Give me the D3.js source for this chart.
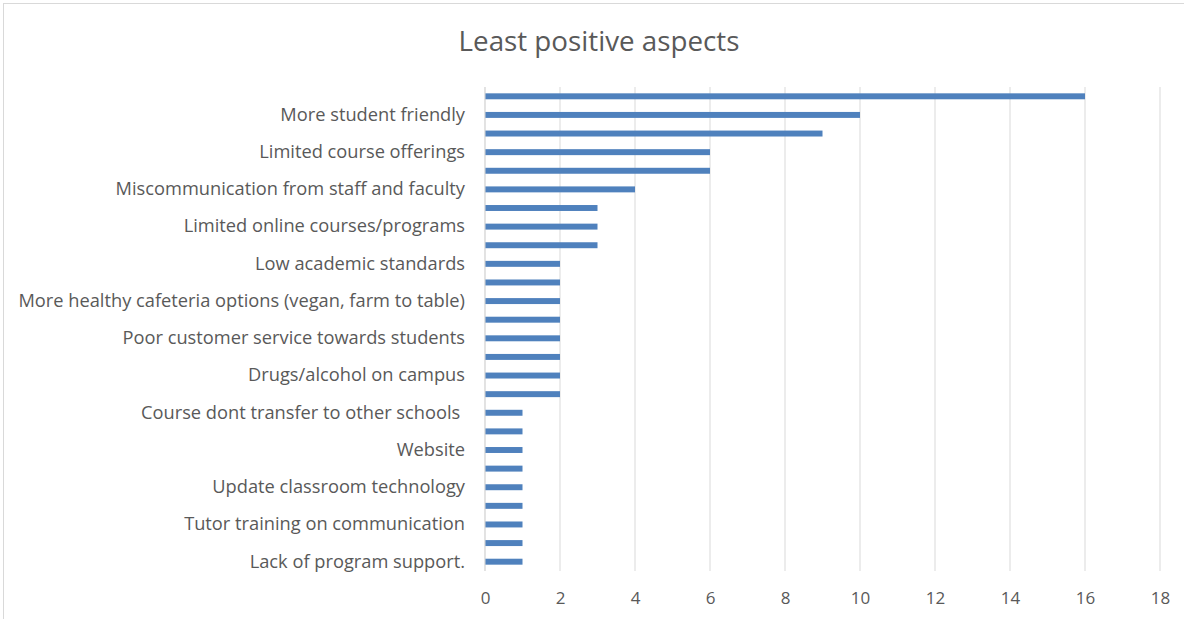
<!DOCTYPE html>
<html><head><meta charset="utf-8">
<script src="https://cdn.jsdelivr.net/npm/d3@7/dist/d3.min.js"></script>
<style>body{margin:0;background:#fff;} text{white-space:pre;}</style>
</head><body>
<script>
const title = "Least positive aspects";
// 26 categories top-to-bottom; only every other one carries a visible label in the reference
const categories = [
  "", "More student friendly",
  "", "Limited course offerings",
  "", "Miscommunication from staff and faculty",
  "", "Limited online courses/programs",
  "", "Low academic standards",
  "", "More healthy cafeteria options (vegan, farm to table)",
  "", "Poor customer service towards students",
  "", "Drugs/alcohol on campus",
  "", "Course dont transfer to other schools ",
  "", "Website",
  "", "Update classroom technology",
  "", "Tutor training on communication",
  "", "Lack of program support."
];
const values = [16,10,9,6,6,4,3,3,3,2,2,2,2,2,2,2,2,1,1,1,1,1,1,1,1,1];
const xTicks = [0,2,4,6,8,10,12,14,16,18];

const W = 1184, H = 619;
const svg = d3.select("body").append("svg").attr("width", W).attr("height", H);
const font = "'Open Sans', Lato, sans-serif";

// chart frame
svg.append("rect").attr("x", 3.5).attr("y", 3.5).attr("width", W + 10).attr("height", H + 10)
  .attr("fill", "#fff").attr("stroke", "#d9d9d9");

const m = {left: 485, right: 1160, top: 87, bottom: 571};
const x = d3.scaleLinear().domain([0, 18]).range([m.left, m.right]);
const y = d3.scaleBand().domain(d3.range(categories.length)).range([m.top, m.bottom]).paddingInner(0.68).paddingOuter(0.34);

// gridlines
svg.append("g").selectAll("line").data(xTicks).join("line")
  .attr("x1", d => x(d)).attr("x2", d => x(d))
  .attr("y1", m.top).attr("y2", m.bottom)
  .attr("stroke", "#d9d9d9").attr("stroke-width", 1);

// bars
svg.append("g").selectAll("rect").data(values).join("rect")
  .attr("x", x(0)).attr("y", (d, i) => y(i))
  .attr("width", d => x(d) - x(0)).attr("height", y.bandwidth())
  .attr("fill", "#4f81bd");

// y axis line
svg.append("line").attr("x1", x(0)).attr("x2", x(0)).attr("y1", m.top).attr("y2", m.bottom)
  .attr("stroke", "#d9d9d9");

// x axis labels
const xAxis = d3.axisBottom(x).tickValues(xTicks).tickSize(0).tickPadding(0);
const gx = svg.append("g").attr("transform", `translate(0,${m.bottom + 21})`).call(xAxis);
gx.select(".domain").remove();
gx.selectAll("text").attr("font-family", font).attr("font-size", 17).attr("fill", "#595959").attr("dy", "0.71em");

// y axis labels
const yAxis = d3.axisLeft(y).tickFormat(i => categories[i]).tickSize(0).tickPadding(20);
const gy = svg.append("g").attr("transform", `translate(${m.left},0)`).call(yAxis);
gy.select(".domain").remove();
const yt = gy.selectAll("text").attr("font-family", font).attr("font-size", 16).attr("fill", "#595959");
// fit label size so the longest label spans like the reference (447px)
let maxW = d3.max(yt.nodes(), n => n.getComputedTextLength());
yt.attr("font-size", 16 * 447 / maxW);

// title
const t = svg.append("text").attr("x", 599).attr("y", 51).attr("text-anchor", "middle")
  .attr("font-family", font).attr("font-size", 24).attr("fill", "#595959").text(title);
t.attr("font-size", 24 * 281 / t.node().getComputedTextLength());
</script>
</body></html>
